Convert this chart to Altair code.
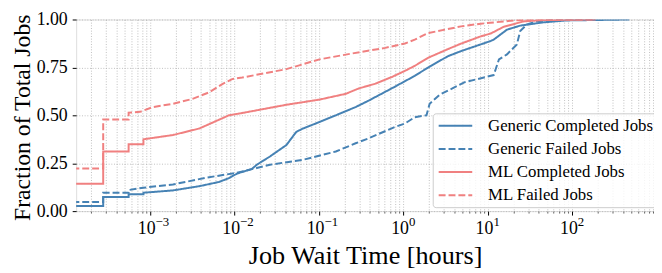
import json
import altair as alt
import pandas as pd

# ---- data (hours, cumulative fraction) ----
gc_t = [1.2e-4, 2.78e-4, 2.78e-4, 5.56e-4, 5.56e-4, 8.33e-4, 8.33e-4, 1.86e-3, 3.81e-3, 6.52e-3,
        8.56e-3, 1.07e-2, 1.60e-2, 1.83e-2, 2.62e-2, 4.11e-2, 4.71e-2, 5.39e-2, 6.45e-2, 0.101,
        0.158, 0.271, 0.388, 0.796, 1.36, 1.95, 3.34, 4.80, 10.8, 11.7, 16.8, 24.1, 45.2, 84.5, 471]
gc_y = [0.027, 0.027, 0.074, 0.074, 0.088, 0.088, 0.096, 0.108, 0.130, 0.152,
        0.172, 0.196, 0.220, 0.242, 0.285, 0.345, 0.380, 0.414, 0.431, 0.465,
        0.500, 0.543, 0.577, 0.650, 0.706, 0.749, 0.808, 0.835, 0.888, 0.895, 0.947, 0.968, 0.985, 0.995, 1.0]

gf_t = [1.2e-4, 2.78e-4, 2.78e-4, 5.56e-4, 5.56e-4, 8.28e-4, 1.86e-3, 4.55e-3, 1.07e-2, 1.83e-2,
        2.62e-2, 6.45e-2, 0.158, 0.271, 0.388, 0.796, 1.04, 1.36, 1.87, 2.04, 2.67, 5.24, 11.7,
        13.5, 16.8, 22.0, 24.1, 28.8, 37.4, 59.2, 174]
gf_y = [0.048, 0.048, 0.096, 0.096, 0.110, 0.122, 0.139, 0.174, 0.200, 0.225,
        0.242, 0.268, 0.311, 0.354, 0.380, 0.440, 0.457, 0.490, 0.500, 0.560, 0.607, 0.672, 0.710,
        0.792, 0.818, 0.870, 0.940, 0.973, 0.990, 0.998, 1.0]

mc_t = [1.2e-4, 2.78e-4, 2.78e-4, 5.56e-4, 5.56e-4, 8.33e-4, 8.33e-4, 1.86e-3, 3.81e-3, 5.96e-3,
        8.56e-3, 1.23e-2, 4.11e-2, 0.101, 0.207, 0.294, 0.465, 0.728, 1.04, 1.36, 1.95, 3.34,
        4.80, 8.22, 10.8, 15.4, 26.4, 45.2, 188]
mc_y = [0.143, 0.143, 0.311, 0.311, 0.349, 0.349, 0.375, 0.397, 0.431, 0.469,
        0.500, 0.512, 0.555, 0.582, 0.612, 0.640, 0.665, 0.700, 0.732, 0.758, 0.800, 0.845,
        0.874, 0.912, 0.927, 0.962, 0.990, 0.997, 1.0]

mf_t = [1.2e-4, 2.78e-4, 2.78e-4, 5.56e-4, 5.56e-4, 7.58e-4, 1.08e-3, 1.86e-3, 3.18e-3, 4.99e-3,
        7.15e-3, 9.35e-3, 1.23e-2, 4.11e-2, 0.101, 0.248, 0.608, 1.04, 1.36, 1.95, 3.34, 4.80,
        8.22, 20.1, 34.5, 188]
mf_y = [0.222, 0.222, 0.478, 0.478, 0.514, 0.518, 0.543, 0.560, 0.586, 0.620,
        0.663, 0.689, 0.697, 0.741, 0.792, 0.823, 0.852, 0.875, 0.895, 0.929, 0.950, 0.964,
        0.978, 0.995, 0.999, 1.0]

series_names = ["Generic Completed Jobs", "Generic Failed Jobs", "ML Completed Jobs", "ML Failed Jobs"]
series_colors = ["#4682b4", "#4682b4", "#f08080", "#f08080"]
series_dashes = [[1, 0], [7, 3], [1, 0], [7, 3]]

y_ticks = [0.0, 0.25, 0.5, 0.75, 1.0]
decade_ticks = [1e-3, 1e-2, 1e-1, 1e0, 1e1, 1e2]
decade_base = ["10", "10", "10", "10", "10", "10"]
decade_exps = ["\u22123", "\u22122", "\u22121", "0", "1", "2"]

# ---- build table ----
rows = []
for name, ts, ys in zip(series_names, [gc_t, gf_t, mc_t, mf_t], [gc_y, gf_y, mc_y, mf_y]):
    for i, (t, y) in enumerate(zip(ts, ys)):
        rows.append({"series": name, "t": t, "y": y, "i": i})
df = pd.DataFrame(rows)

minor_ticks = []
for e in range(-4, 3):
    for k in range(2, 10):
        v = float(f"{k}e{e}")
        if 1.33e-4 <= v <= 925:
            minor_ticks.append(v)

idx = "round(log(datum.value)/LN10)+3"
base_expr = f"{json.dumps(decade_base)}[{idx}]"
exp_expr = f"{json.dumps(decade_exps, ensure_ascii=False)}[{idx}]"

FONT = "Liberation Serif"
GRID = dict(gridColor="#b0b0b0", gridDash=[1, 1.7], gridWidth=0.8)
XSCALE = alt.Scale(type="log", domain=[1.33e-4, 925], nice=False)
YSCALE = alt.Scale(domain=[0, 1], nice=False)

legend = alt.Legend(
    title=None, orient="none", legendX=361, legendY=95,
    symbolType="M-1,0H4.23", symbolSize=169, symbolStrokeWidth=2,
    labelFont=FONT, labelFontSize=17, labelOffset=35, labelLimit=0, rowPadding=5.5, padding=4,
    fillColor="rgba(255,255,255,0.8)", strokeColor="#cccccc", cornerRadius=3,
)

base = alt.Chart(df)

# minor ticks + minor grid
minor = base.mark_line(opacity=0).encode(
    x=alt.X("t:Q", scale=XSCALE,
            axis=alt.Axis(values=minor_ticks, labels=False, title=None, orient="bottom",
                          tickSize=2, tickWidth=0.6, tickColor="black", domain=False,
                          grid=True, **GRID)),
    y=alt.Y("y:Q", scale=YSCALE, axis=None),
)

# exponent labels (superscripts)
expo = base.mark_line(opacity=0).encode(
    x=alt.X("t:Q", scale=XSCALE,
            axis=alt.Axis(values=decade_ticks, labelExpr=exp_expr, title=None, orient="bottom",
                          ticks=False, tickSize=0, domain=False, grid=False,
                          labelOverlap=False, labelFlush=False,
                          labelFont=FONT, labelFontSize=13, labelColor="black",
                          labelAlign="left", labelOffset=5, labelPadding=5, labelBaseline="top")),
    y=alt.Y("y:Q", scale=YSCALE, axis=None),
)

lines = base.mark_line(strokeWidth=2, clip=True).encode(
    x=alt.X("t:Q", scale=XSCALE,
            axis=alt.Axis(values=decade_ticks, labelExpr=base_expr, labelOverlap=False, labelFlush=False,
                          orient="bottom",
                          title="Job Wait Time [hours]", titleFontSize=26.5, titleFont=FONT,
                          titleFontWeight="normal", titleY=53.5, titleBaseline="alphabetic",
                          titleColor="black",
                          labelFont=FONT, labelFontSize=18, labelPadding=5, labelColor="black",
                          labelAlign="right", labelOffset=5, labelBaseline="top",
                          tickColor="black", tickSize=4, tickWidth=1,
                          domain=False, grid=True, **GRID)),
    y=alt.Y("y:Q", scale=YSCALE,
            axis=alt.Axis(values=y_ticks, format=".2f",
                          title="Fraction of Total Jobs", titleFontSize=24, titleFont=FONT,
                          titleFontWeight="normal", titleX=-47.5, titleY=99, titleAngle=270,
                          titleAlign="center", titleBaseline="alphabetic", titleColor="black",
                          labelFont=FONT, labelFontSize=18, labelPadding=5, labelColor="black",
                          tickColor="black", tickSize=4, domain=False, grid=True, **GRID)),
    color=alt.Color("series:N", scale=alt.Scale(domain=series_names, range=series_colors), legend=legend),
    strokeDash=alt.StrokeDash("series:N", scale=alt.Scale(domain=series_names, range=series_dashes), legend=legend),
    order=alt.Order("i:Q"),
)

chart = alt.layer(minor, expo, lines).resolve_axis(
    x="independent", y="independent"
).properties(
    width=585, height=194,
    autosize=alt.AutoSizeParams(type="none"),
    padding={"left": 69, "top": 10, "right": 0, "bottom": 60},
).configure_view(stroke="black", strokeWidth=1.2).configure(font=FONT)

chart.save("out.html", embed_options={"renderer": "svg", "actions": False})
